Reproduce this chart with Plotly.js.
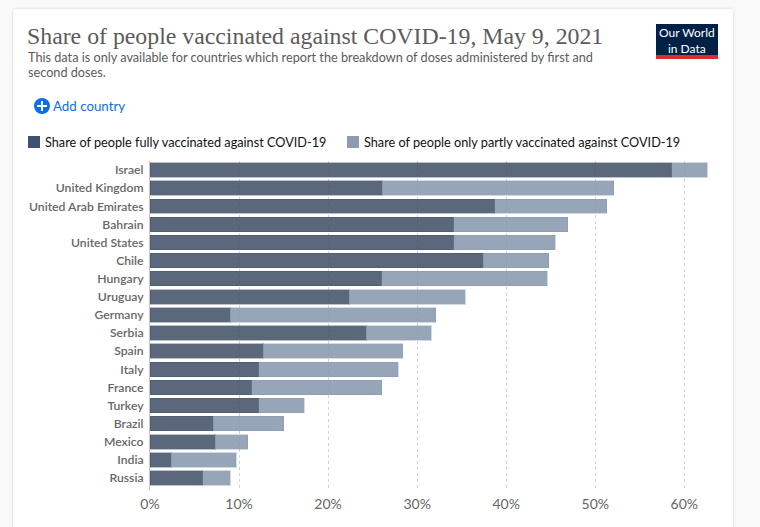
<!DOCTYPE html>
<html><head><meta charset="utf-8">
<script src="https://cdn.plot.ly/plotly-3.0.1.min.js"></script>
<style>
html,body{margin:0;padding:0;background:#f9f9f9;overflow:hidden;width:760px;height:527px}
#card{position:absolute;left:13px;top:9px;width:720px;height:530px;background:#fff;border-radius:2px;box-shadow:0 0 3px rgba(0,0,0,.18)}
#chart{position:absolute;left:0;top:0;width:760px;height:527px}
</style></head><body>
<div id="card"></div>
<div id="chart"></div>
<script>
const countries=["Israel","United Kingdom","United Arab Emirates","Bahrain","United States","Chile","Hungary","Uruguay","Germany","Serbia","Spain","Italy","France","Turkey","Brazil","Mexico","India","Russia"];
const fully=[58.6,26.1,38.7,34.1,34.1,37.4,26.0,22.4,9.0,24.3,12.7,12.2,11.4,12.2,7.1,7.3,2.4,5.9];
const partly=[4.0,26.0,12.6,12.8,11.4,7.4,18.6,13.0,23.1,7.3,15.7,15.7,14.6,5.1,7.9,3.7,7.3,3.1];
const tickVals=[0,10,20,30,40,50,60];
const tickText=["0%","10%","20%","30%","40%","50%","60%"];
const seriesNames=["Share of people fully vaccinated against COVID-19","Share of people only partly vaccinated against COVID-19"];
const W=760,H=527,L=150,T=161,R=49,B=37;
const px=v=>(v-L)/(W-L-R), py=v=>1-(v-T)/(H-T-B);
const lato="Lato, sans-serif";
const note=(text,x,y,size,color,extra)=>Object.assign({text,xref:"paper",yref:"paper",x:px(x),y:py(y),xanchor:"left",yanchor:"middle",showarrow:false,borderpad:0,borderwidth:0,font:{family:lato,size,color}},extra||{});
const box=(type,x0,x1,y0,y1,fillcolor)=>({type,xref:"paper",yref:"paper",x0:px(x0),x1:px(x1),y0:py(y0),y1:py(y1),fillcolor,line:{width:0}});
const data=[
 {type:"bar",orientation:"h",y:countries,x:fully,name:seriesNames[0],marker:{color:"rgba(62,77,100,.85)",line:{color:"rgba(62,77,100,.35)",width:1}},hoverinfo:"skip"},
 {type:"bar",orientation:"h",y:countries,x:partly,name:seriesNames[1],marker:{color:"rgba(133,149,173,.85)",line:{color:"rgba(133,149,173,.35)",width:1}},hoverinfo:"skip"}
];
const layout={
 width:W,height:H,margin:{l:L,r:R,t:T,b:B,pad:0},
 paper_bgcolor:"rgba(0,0,0,0)",plot_bgcolor:"rgba(0,0,0,0)",
 barmode:"stack",bargap:.2,showlegend:false,
 title:{text:"Share of people vaccinated against COVID-19, May 9, 2021",font:{family:"'Liberation Serif', serif",size:23.8,color:"#5b5b5b"},x:27/W,xanchor:"left",xref:"container",y:1-36/H,yanchor:"middle"},
 xaxis:{range:[0,63],tickvals:tickVals,ticktext:tickText,tickfont:{family:lato,size:14,color:"#666"},showgrid:true,gridcolor:"#d4d4d4",griddash:"3px,3px",gridwidth:1,zeroline:false,showline:false,ticks:"",ticklabelstandoff:4,fixedrange:true},
 yaxis:{range:[17.66,-0.497],tickfont:{family:lato,size:12.2,weight:600,color:"#666"},showgrid:false,zeroline:false,showline:true,linecolor:"#c8c8c8",linewidth:1,ticks:"",ticklabelstandoff:3,fixedrange:true,automargin:false},
 shapes:[
  box("rect",656,718,24,55,"#002147"),
  box("rect",656,718,55,59,"#dc2e24"),
  box("circle",34,50,98,114,"#0a6fe8"),
  box("rect",37,47,105,107,"#fff"),
  box("rect",41,43,101,111,"#fff"),
  box("rect",28,40,136,148,"#3f5070"),
  box("rect",347,359,136,148,"#8d9bb1")
 ],
 annotations:[
  note("This data is only available for countries which report the breakdown of doses administered by first and",28,57,12.7,"#5b5b5b"),
  note("second doses.",28,72,12.7,"#5b5b5b"),
  note("Add country",53,106,13.3,"#0a6fe8"),
  note(seriesNames[0],45,142,12.7,"#111"),
  note(seriesNames[1],364,142,12.7,"#111"),
  note("Our World<br>in Data",687,40,12,"#fff",{xanchor:"center",align:"center"})
 ]
};
Plotly.newPlot("chart",data,layout,{displayModeBar:false,staticPlot:true});
</script></body></html>
